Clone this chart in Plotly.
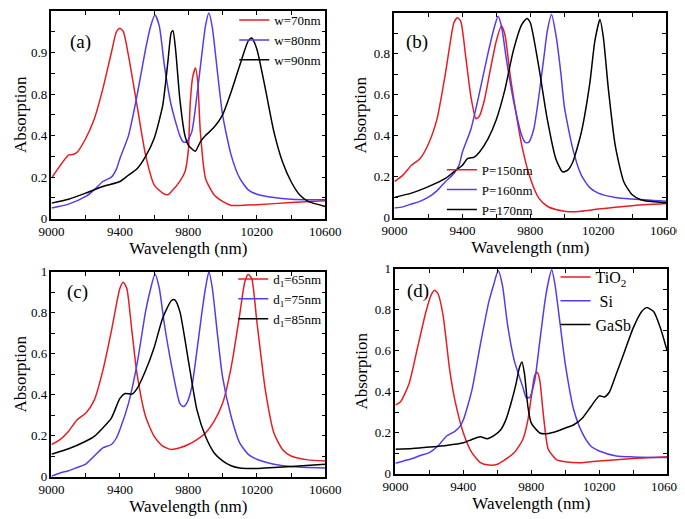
import plotly.graph_objects as go

# ---------------- data ----------------
# Panel (a): width w
A_W70_X = [9000, 9100, 9130, 9150, 9200, 9250, 9300, 9350, 9380, 9400, 9420, 9450, 9500, 9550, 9600, 9650, 9680, 9700, 9750, 9780, 9800, 9810, 9825, 9842, 9855, 9870, 9900, 9950, 10000, 10050, 10100, 10200, 10400, 10600]
A_W70_Y = [0.195, 0.306, 0.31, 0.32, 0.386, 0.48, 0.625, 0.80, 0.90, 0.917, 0.90, 0.785, 0.545, 0.306, 0.163, 0.123, 0.115, 0.13, 0.18, 0.226, 0.33, 0.545, 0.68, 0.726, 0.657, 0.418, 0.195, 0.115, 0.083, 0.064, 0.064, 0.067, 0.078, 0.086]
A_W80_X = [9000, 9100, 9200, 9250, 9300, 9350, 9380, 9400, 9450, 9500, 9550, 9580, 9605, 9630, 9660, 9700, 9750, 9770, 9790, 9820, 9850, 9880, 9900, 9920, 9940, 9970, 10000, 10050, 10100, 10150, 10200, 10300, 10400, 10600]
A_W80_Y = [0.051, 0.07, 0.107, 0.139, 0.179, 0.20, 0.24, 0.29, 0.40, 0.593, 0.817, 0.928, 0.98, 0.928, 0.737, 0.545, 0.40, 0.37, 0.37, 0.418, 0.593, 0.80, 0.928, 0.99, 0.92, 0.705, 0.50, 0.306, 0.195, 0.139, 0.118, 0.102, 0.094, 0.091]
A_W90_X = [9000, 9100, 9200, 9300, 9400, 9450, 9500, 9550, 9600, 9650, 9680, 9700, 9710, 9725, 9750, 9780, 9800, 9840, 9870, 9900, 9950, 10000, 10050, 10100, 10150, 10170, 10200, 10250, 10300, 10350, 10400, 10450, 10500, 10600]
A_W90_Y = [0.075, 0.094, 0.123, 0.155, 0.179, 0.21, 0.24, 0.30, 0.386, 0.545, 0.753, 0.896, 0.905, 0.817, 0.577, 0.40, 0.354, 0.325, 0.37, 0.40, 0.44, 0.50, 0.61, 0.737, 0.856, 0.87, 0.817, 0.625, 0.418, 0.274, 0.179, 0.115, 0.083, 0.059]

# Panel (b): period P
B_P150_X = [9000, 9050, 9100, 9150, 9200, 9250, 9300, 9330, 9350, 9370, 9390, 9420, 9450, 9480, 9500, 9530, 9560, 9600, 9630, 9650, 9680, 9700, 9750, 9800, 9850, 9900, 9950, 10000, 10050, 10100, 10200, 10300, 10400, 10600]
B_P150_Y = [0.176, 0.208, 0.256, 0.288, 0.36, 0.48, 0.704, 0.864, 0.952, 0.976, 0.96, 0.784, 0.592, 0.483, 0.496, 0.576, 0.704, 0.864, 0.936, 0.896, 0.704, 0.592, 0.352, 0.192, 0.096, 0.056, 0.04, 0.032, 0.029, 0.032, 0.042, 0.051, 0.059, 0.069]
B_P160_X = [9000, 9050, 9100, 9150, 9200, 9250, 9300, 9350, 9380, 9400, 9450, 9500, 9550, 9590, 9610, 9630, 9660, 9700, 9750, 9770, 9790, 9820, 9850, 9880, 9900, 9925, 9950, 9980, 10000, 10050, 10100, 10150, 10200, 10300, 10400, 10600]
B_P160_Y = [0.048, 0.053, 0.067, 0.08, 0.10, 0.131, 0.176, 0.216, 0.256, 0.32, 0.432, 0.608, 0.80, 0.936, 0.984, 0.936, 0.768, 0.576, 0.40, 0.368, 0.368, 0.432, 0.592, 0.784, 0.912, 0.992, 0.896, 0.704, 0.544, 0.336, 0.208, 0.147, 0.12, 0.099, 0.091, 0.08]
B_P170_X = [9000, 9100, 9200, 9300, 9350, 9400, 9430, 9470, 9500, 9550, 9600, 9650, 9700, 9750, 9780, 9800, 9850, 9900, 9950, 9990, 10020, 10050, 10100, 10150, 10180, 10210, 10230, 10260, 10300, 10350, 10400, 10450, 10500, 10600]
B_P170_Y = [0.099, 0.12, 0.152, 0.192, 0.224, 0.256, 0.288, 0.296, 0.32, 0.384, 0.48, 0.624, 0.816, 0.944, 0.973, 0.952, 0.736, 0.48, 0.288, 0.224, 0.232, 0.272, 0.416, 0.656, 0.864, 0.968, 0.88, 0.624, 0.352, 0.176, 0.112, 0.088, 0.08, 0.072]

# Panel (c): thickness d1
C_D65_X = [9000, 9050, 9100, 9150, 9200, 9250, 9300, 9350, 9400, 9420, 9440, 9470, 9500, 9550, 9600, 9650, 9700, 9750, 9800, 9850, 9900, 9950, 10000, 10050, 10100, 10130, 10150, 10170, 10200, 10250, 10300, 10350, 10400, 10500, 10600]
C_D65_Y = [0.157, 0.181, 0.222, 0.278, 0.31, 0.374, 0.518, 0.711, 0.92, 0.949, 0.92, 0.711, 0.502, 0.294, 0.197, 0.149, 0.133, 0.141, 0.157, 0.181, 0.213, 0.27, 0.358, 0.534, 0.791, 0.952, 0.987, 0.968, 0.76, 0.422, 0.213, 0.133, 0.101, 0.082, 0.077]
C_D75_X = [9000, 9050, 9100, 9150, 9200, 9250, 9300, 9350, 9380, 9400, 9450, 9500, 9550, 9580, 9605, 9630, 9660, 9700, 9750, 9770, 9790, 9820, 9850, 9880, 9900, 9920, 9940, 9970, 10000, 10050, 10100, 10150, 10200, 10300, 10400, 10600]
C_D75_Y = [0.002, 0.018, 0.029, 0.045, 0.061, 0.101, 0.141, 0.157, 0.19, 0.23, 0.358, 0.55, 0.807, 0.92, 0.989, 0.92, 0.743, 0.55, 0.358, 0.342, 0.358, 0.438, 0.615, 0.807, 0.92, 1.0, 0.92, 0.695, 0.486, 0.294, 0.165, 0.109, 0.085, 0.061, 0.05, 0.042]
C_D85_X = [9000, 9100, 9200, 9250, 9300, 9350, 9400, 9430, 9470, 9500, 9550, 9600, 9650, 9700, 9720, 9750, 9800, 9850, 9900, 9950, 10000, 10050, 10100, 10200, 10300, 10400, 10600]
C_D85_Y = [0.109, 0.136, 0.173, 0.197, 0.238, 0.286, 0.382, 0.406, 0.403, 0.43, 0.518, 0.631, 0.775, 0.859, 0.864, 0.807, 0.567, 0.326, 0.197, 0.117, 0.077, 0.053, 0.042, 0.04, 0.045, 0.05, 0.061]

# Panel (d): material
D_TIO2_X = [9000, 9030, 9080, 9130, 9180, 9210, 9230, 9250, 9280, 9320, 9350, 9400, 9450, 9500, 9550, 9600, 9650, 9700, 9750, 9780, 9800, 9820, 9835, 9850, 9870, 9900, 9950, 10000, 10100, 10200, 10400, 10600]
D_TIO2_Y = [0.335, 0.351, 0.439, 0.615, 0.792, 0.872, 0.896, 0.88, 0.776, 0.503, 0.359, 0.199, 0.103, 0.054, 0.042, 0.046, 0.071, 0.103, 0.167, 0.263, 0.375, 0.479, 0.495, 0.455, 0.295, 0.119, 0.067, 0.058, 0.054, 0.0625, 0.074, 0.083]
D_SI_X = [9000, 9050, 9100, 9150, 9200, 9250, 9300, 9350, 9380, 9400, 9450, 9500, 9550, 9580, 9605, 9630, 9660, 9700, 9750, 9770, 9790, 9820, 9850, 9880, 9900, 9920, 9940, 9970, 10000, 10050, 10100, 10150, 10200, 10300, 10400, 10600]
D_SI_Y = [0.051, 0.0625, 0.074, 0.09, 0.103, 0.135, 0.183, 0.207, 0.231, 0.263, 0.407, 0.631, 0.84, 0.928, 0.992, 0.92, 0.728, 0.551, 0.423, 0.372, 0.372, 0.455, 0.647, 0.84, 0.936, 0.997, 0.92, 0.728, 0.535, 0.311, 0.199, 0.135, 0.111, 0.087, 0.082, 0.079]
D_GASB_X = [9000, 9100, 9200, 9300, 9400, 9450, 9500, 9540, 9580, 9620, 9650, 9680, 9710, 9730, 9745, 9760, 9780, 9800, 9850, 9900, 9950, 10000, 10050, 10100, 10150, 10200, 10230, 10260, 10300, 10350, 10400, 10450, 10480, 10520, 10560, 10600]
D_GASB_Y = [0.119, 0.123, 0.13, 0.138, 0.151, 0.167, 0.18, 0.171, 0.186, 0.215, 0.263, 0.343, 0.439, 0.519, 0.546, 0.487, 0.327, 0.247, 0.199, 0.196, 0.207, 0.223, 0.239, 0.271, 0.327, 0.38, 0.375, 0.399, 0.487, 0.599, 0.712, 0.792, 0.811, 0.792, 0.712, 0.599]

# tick labels
X_TICKVALS = [9000, 9400, 9800, 10200, 10600]
X_TICKTEXT = ["9000", "9400", "9800", "10200", "10600"]
X_MINOR = [9200, 9600, 10000, 10400]
Y_TICKVALS = [0, 0.2, 0.4, 0.6, 0.8, 1.0]
Y_TICKTEXT_A = ["0", "0.2", "0.4", "0.8", "0.9", "1"]
Y_TICKTEXT = ["0", "0.2", "0.4", "0.6", "0.8", "1"]
Y_MINOR = [0.1, 0.3, 0.5, 0.7, 0.9]

PANEL_LABELS = ["(a)", "(b)", "(c)", "(d)"]

RED = "rgb(228,30,36)"
BLUE = "rgb(85,60,235)"
BLACK = "rgb(0,0,0)"
FONT = "Liberation Serif, Times New Roman, DejaVu Serif, serif"

# page is offset 8px by the body margin: draw a 677x511 figure and
# map reference pixel positions into it
REF_W, REF_H = 685, 519
W, H = 677, 511
SX, SY = W / REF_W, H / REF_H


def fx(px):
    return px * SX / W


def fy(py):
    return 1 - py * SY / H


# ---------------- figure ----------------
fig = go.Figure()


def add(x, y, name, color, n, legend):
    sfx = "" if n == 1 else str(n)
    fig.add_trace(go.Scatter(
        x=x, y=y, name=name, mode="lines",
        line=dict(color=color, width=1.5, shape="spline", smoothing=0.6),
        xaxis="x" + sfx, yaxis="y" + sfx, legend=legend))


add(A_W70_X, A_W70_Y, "w=70nm", RED, 1, "legend")
add(A_W80_X, A_W80_Y, "w=80nm", BLUE, 1, "legend")
add(A_W90_X, A_W90_Y, "w=90nm", BLACK, 1, "legend")
add(B_P150_X, B_P150_Y, "P=150nm", RED, 2, "legend2")
add(B_P160_X, B_P160_Y, "P=160nm", BLUE, 2, "legend2")
add(B_P170_X, B_P170_Y, "P=170nm", BLACK, 2, "legend2")
add(C_D65_X, C_D65_Y, "d<sub>1</sub>=65nm", RED, 3, "legend3")
add(C_D75_X, C_D75_Y, "d<sub>1</sub>=75nm", BLUE, 3, "legend3")
add(C_D85_X, C_D85_Y, "d<sub>1</sub>=85nm", BLACK, 3, "legend3")
add(D_TIO2_X, D_TIO2_Y, "TiO<sub>2</sub>", RED, 4, "legend4")
add(D_SI_X, D_SI_Y, " Si", BLUE, 4, "legend4")
add(D_GASB_X, D_GASB_Y, "GaSb", BLACK, 4, "legend4")

doms = [
    ([fx(44), fx(321)], [fy(214), fy(3)]),
    ([fx(391), fx(666)], [fy(213), fy(5)]),
    ([fx(44), fx(321)], [fy(476), fy(268)]),
    ([fx(392), fx(667)], [fy(473), fy(265)]),
]
ytitle_standoff = [0, 3, 0, 3]

layout = dict(
    width=W, height=H,
    margin=dict(l=0, r=0, t=0, b=0, autoexpand=False),
    paper_bgcolor="white", plot_bgcolor="white",
    font=dict(family=FONT, color="black", size=13),
    showlegend=True,
)

for i, (xd, yd) in enumerate(doms):
    n = i + 1
    sfx = "" if n == 1 else str(n)
    layout["xaxis" + sfx] = dict(
        domain=xd, anchor="y" + sfx, range=[9000, 10600],
        tickmode="array", tickvals=X_TICKVALS, ticktext=X_TICKTEXT,
        ticks="inside", ticklen=4, tickwidth=1, tickcolor="black",
        minor=dict(tickmode="array", tickvals=X_MINOR, ticks="inside", ticklen=4,
                   tickwidth=1, tickcolor="black", showgrid=False),
        showline=True, linewidth=1.5, linecolor="black", mirror="ticks",
        showgrid=False, zeroline=False,
        tickfont=dict(family=FONT, size=13),
        title=dict(text="Wavelength (nm)", font=dict(family=FONT, size=17), standoff=0),
    )
    layout["yaxis" + sfx] = dict(
        domain=yd, anchor="x" + sfx, range=[0, 1],
        tickmode="array", tickvals=Y_TICKVALS,
        ticktext=Y_TICKTEXT_A if n == 1 else Y_TICKTEXT,
        ticks="inside", ticklen=4, tickwidth=1, tickcolor="black",
        minor=dict(tickmode="array", tickvals=Y_MINOR, ticks="inside", ticklen=4,
                   tickwidth=1, tickcolor="black", showgrid=False),
        showline=True, linewidth=1.5, linecolor="black", mirror="ticks",
        showgrid=False, zeroline=False,
        tickfont=dict(family=FONT, size=13),
        title=dict(text="Absorption", font=dict(family=FONT, size=17),
                   standoff=ytitle_standoff[i]),
    )

leg_common = dict(bgcolor="rgba(0,0,0,0)", borderwidth=0, itemwidth=30,
                  tracegroupgap=0, yanchor="top")
layout["legend"] = dict(leg_common, x=fx(322), y=fy(-3), xanchor="right",
                        font=dict(family=FONT, size=13))
layout["legend2"] = dict(leg_common, x=fx(439), y=fy(149), xanchor="left",
                         font=dict(family=FONT, size=13))
layout["legend3"] = dict(leg_common, x=fx(322), y=fy(260), xanchor="right",
                         font=dict(family=FONT, size=13))
layout["legend4"] = dict(leg_common, x=fx(554), y=fy(256), xanchor="left",
                         font=dict(family=FONT, size=16))

anns = []
label_pos = [(73, 35), (414, 35), (70, 288), (415, 287)]
for lab, (lx, ly) in zip(PANEL_LABELS, label_pos):
    anns.append(dict(text=lab, x=fx(lx), y=fy(ly), xref="paper", yref="paper",
                     showarrow=False, font=dict(family=FONT, size=19),
                     xanchor="center", yanchor="middle"))
layout["annotations"] = anns

fig.update_layout(**layout)
fig.write_html("out.html")
